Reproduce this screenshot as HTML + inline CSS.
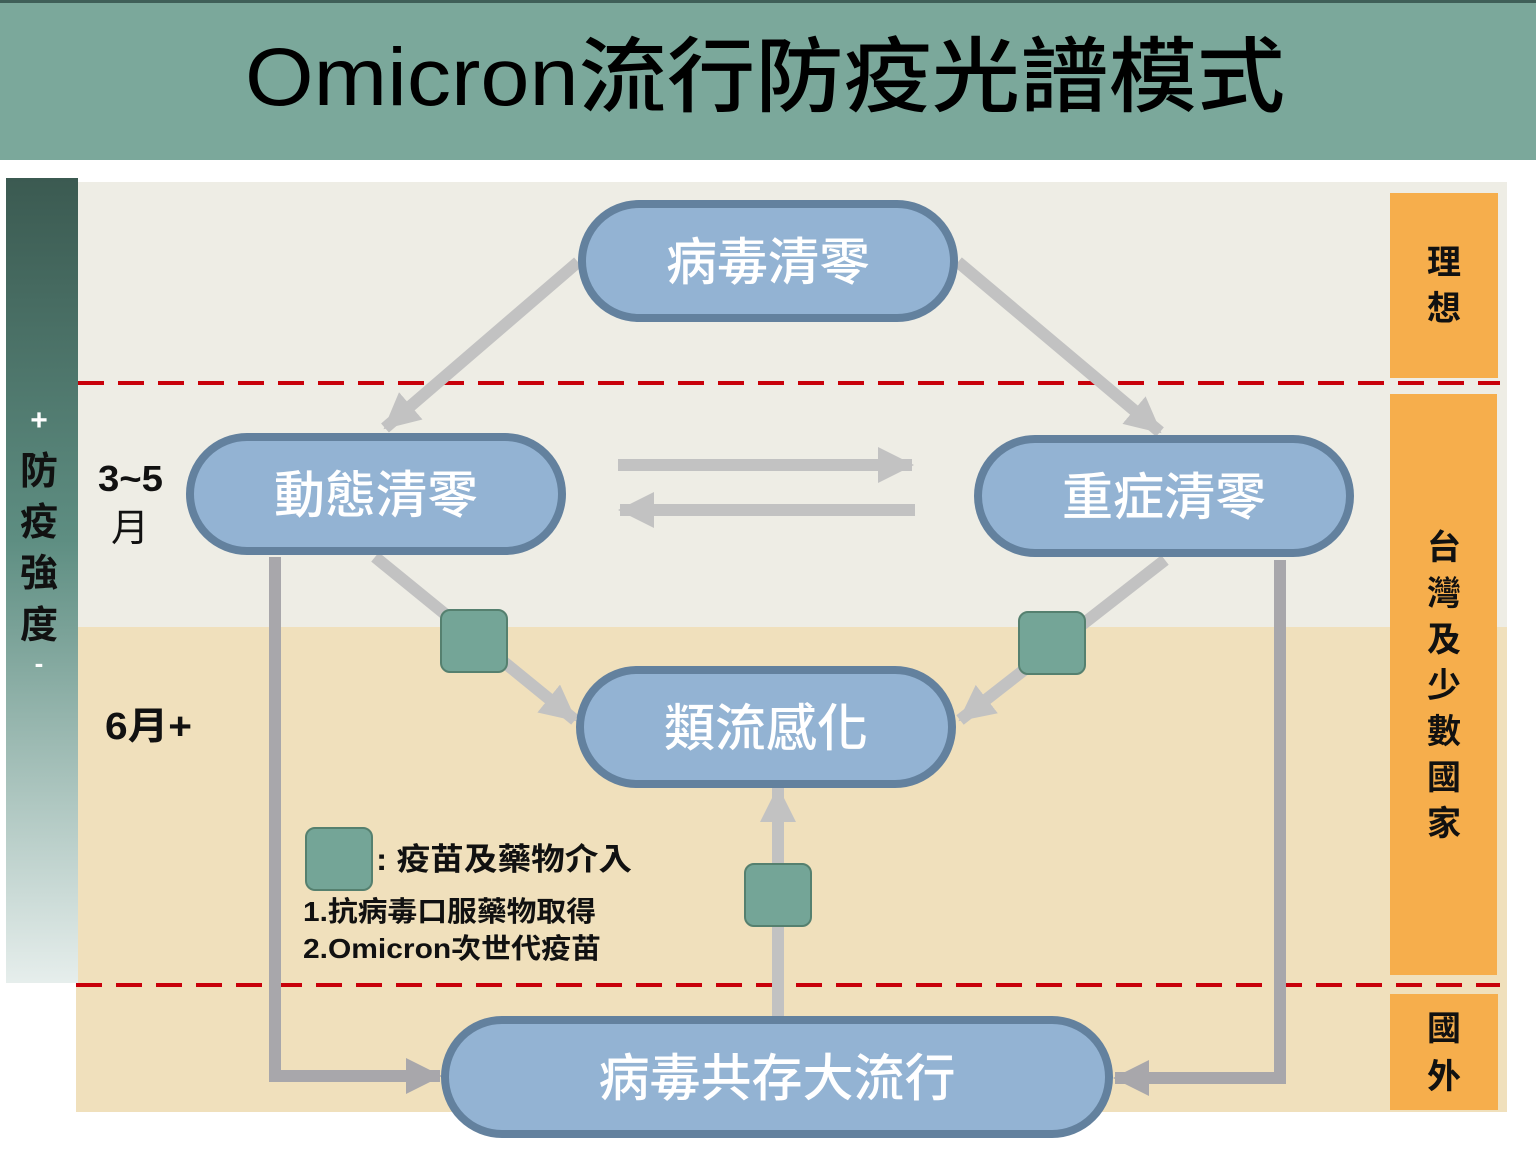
<!DOCTYPE html>
<html><head><meta charset="utf-8"><style>
html,body{margin:0;padding:0;background:#fff;}
svg{display:block;}
text{font-family:"Liberation Sans","Noto Sans CJK TC",sans-serif;}
</style></head><body>
<svg width="1536" height="1156" viewBox="0 0 1536 1156" xmlns="http://www.w3.org/2000/svg">
<defs>
<linearGradient id="lg" x1="0" y1="0" x2="0" y2="1">
<stop offset="0" stop-color="#3b5a51"/><stop offset="0.45" stop-color="#5e8e82"/><stop offset="1" stop-color="#e6eeec"/>
</linearGradient>
<marker id="ah" viewBox="0 0 36 36" markerWidth="36" markerHeight="36" markerUnits="userSpaceOnUse" refX="34" refY="18" orient="auto">
<path d="M0,0 L36,18 L0,36 z" fill="#c2c2c2"/></marker>
<marker id="ah2" viewBox="0 0 36 36" markerWidth="36" markerHeight="36" markerUnits="userSpaceOnUse" refX="34" refY="18" orient="auto">
<path d="M0,0 L36,18 L0,36 z" fill="#a8a7ab"/></marker>
</defs>
<rect x="0" y="0" width="1536" height="160" fill="#7ba89b"/>
<rect x="0" y="0" width="1536" height="3" fill="#3f5f58"/>
<text x="245" y="105" font-size="82" font-weight="500" fill="#000" textLength="1040" lengthAdjust="spacingAndGlyphs">Omicron流行防疫光譜模式</text>
<rect x="78" y="182" width="1429" height="446" fill="#eeede5"/>
<rect x="76" y="627" width="1431" height="485" fill="#f0e0bc"/>
<rect x="6" y="178" width="72" height="805" fill="url(#lg)"/>
<rect x="1390" y="193" width="108" height="185" fill="#f6ae4c"/>
<rect x="1390" y="394" width="107" height="581" fill="#f6ae4c"/>
<rect x="1390" y="994" width="108" height="116" fill="#f6ae4c"/>
<line x1="78" y1="383" x2="1500" y2="383" stroke="#c8000a" stroke-width="4" stroke-dasharray="26,14"/>
<line x1="76" y1="985" x2="1500" y2="985" stroke="#c8000a" stroke-width="4" stroke-dasharray="26,14"/>
<g stroke="#c2c2c2" stroke-width="12" fill="none">
<line x1="578" y1="262" x2="385" y2="428" marker-end="url(#ah)"/>
<line x1="958" y1="262" x2="1160" y2="432" marker-end="url(#ah)"/>
<line x1="618" y1="465" x2="912" y2="465" marker-end="url(#ah)"/>
<line x1="915" y1="510" x2="620" y2="510" marker-end="url(#ah)"/>
<line x1="375" y1="557" x2="575" y2="720" marker-end="url(#ah)"/>
<line x1="1165" y1="560" x2="960" y2="720" marker-end="url(#ah)"/>
<line x1="778" y1="1016" x2="778" y2="788" marker-end="url(#ah)"/>
</g>
<g stroke="#a8a7ab" stroke-width="12" fill="none">
<polyline points="275,557 275,1076 440,1076" marker-end="url(#ah2)"/>
<polyline points="1280,560 1280,1078 1115,1078" marker-end="url(#ah2)"/>
</g>
<g fill="#74a597" stroke="#55806f" stroke-width="2">
<rect x="441" y="610" width="66" height="62" rx="9"/>
<rect x="1019" y="612" width="66" height="62" rx="9"/>
<rect x="745" y="864" width="66" height="62" rx="9"/>
<rect x="306" y="828" width="66" height="62" rx="9"/>
</g>
<g fill="#93b3d3" stroke="#63819e" stroke-width="8">
<rect x="582" y="204" width="372" height="114" rx="57"/>
<rect x="190" y="437" width="372" height="114" rx="57"/>
<rect x="978" y="439" width="372" height="114" rx="57"/>
<rect x="580" y="670" width="372" height="114" rx="57"/>
<rect x="445" y="1020" width="664" height="114" rx="57"/>
</g>
<g fill="#fff" font-size="51" text-anchor="middle" font-weight="500">
<text x="768" y="280">病毒清零</text>
<text x="376" y="513">動態清零</text>
<text x="1164" y="515">重症清零</text>
<text x="766" y="746">類流感化</text>
<text x="777" y="1096">病毒共存大流行</text>
</g>
<text x="376" y="870" font-size="31" font-weight="bold" fill="#111" textLength="256" lengthAdjust="spacingAndGlyphs">: 疫苗及藥物介入</text>
<text x="303" y="921" font-size="28" font-weight="bold" fill="#111" textLength="293" lengthAdjust="spacingAndGlyphs">1.抗病毒口服藥物取得</text>
<text x="303" y="958" font-size="28" font-weight="bold" fill="#111" textLength="298" lengthAdjust="spacingAndGlyphs">2.Omicron次世代疫苗</text>
<text x="98" y="491" font-size="36" font-weight="bold" fill="#111" textLength="65" lengthAdjust="spacingAndGlyphs">3~5</text>
<text x="111" y="541" font-size="38" fill="#111">月</text>
<text x="105" y="739" font-size="38" font-weight="bold" fill="#111" textLength="87" lengthAdjust="spacingAndGlyphs">6月+</text>
<g font-size="38" font-weight="bold" fill="#111" text-anchor="middle">
<text x="39" y="430" fill="#fff" font-size="30">+</text>
<text x="39" y="484">防</text>
<text x="39" y="535">疫</text>
<text x="39" y="586">強</text>
<text x="39" y="638">度</text>
<text x="39" y="672" fill="#fff" font-size="26">-</text>
</g>
<g font-size="34" font-weight="bold" fill="#111" text-anchor="middle">
<text x="1444" y="274">理</text>
<text x="1444" y="320">想</text>
<text x="1444" y="559">台</text>
<text x="1444" y="605">灣</text>
<text x="1444" y="651">及</text>
<text x="1444" y="697">少</text>
<text x="1444" y="743">數</text>
<text x="1444" y="789">國</text>
<text x="1444" y="835">家</text>
<text x="1444" y="1040">國</text>
<text x="1444" y="1088">外</text>
</g>
</svg>
</body></html>
